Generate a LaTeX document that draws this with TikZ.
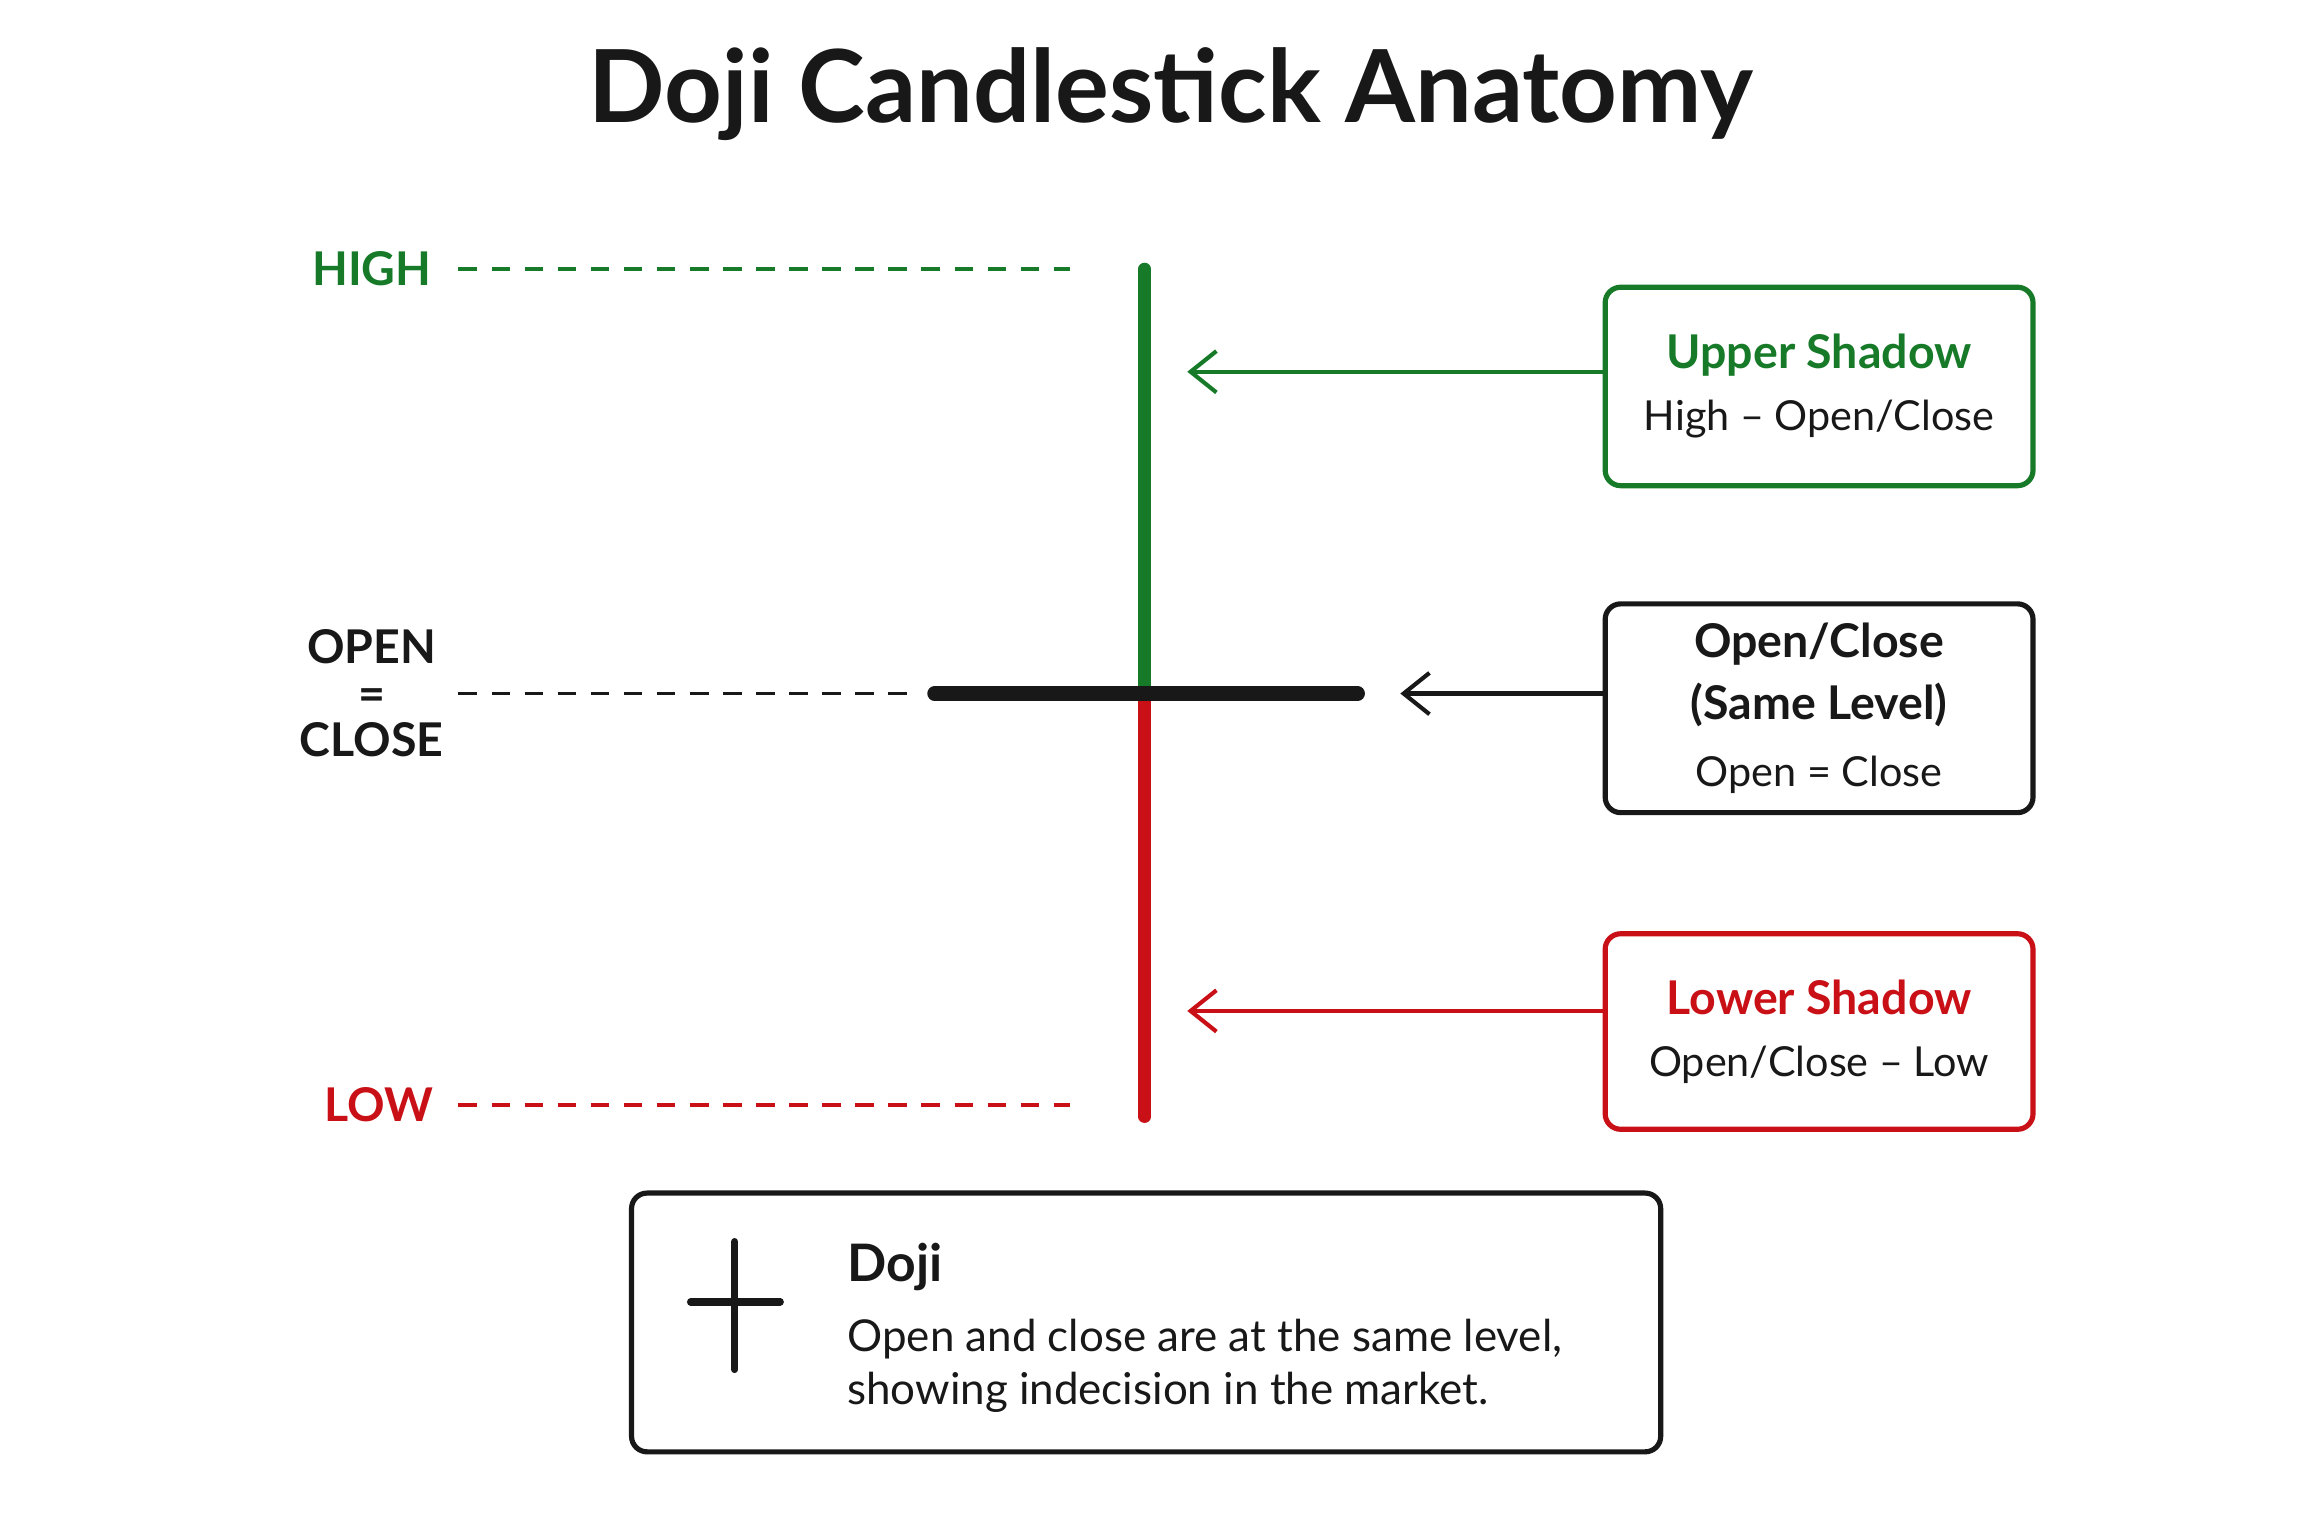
\documentclass[tikz,border=0pt]{standalone}
\usepackage{fontspec}
\setmainfont{Lato}
\usetikzlibrary{arrows.meta}
\definecolor{upgreen}{RGB}{22,122,40}
\definecolor{downred}{RGB}{200,16,22}
\definecolor{ink}{RGB}{24,24,24}
\newcommand{\boxhead}{\fontsize{9}{11}\selectfont\bfseries}
\newcommand{\boxbody}{\fontsize{8}{10}\selectfont\mdseries}
\tikzset{
    level/.style = { font=\fontsize{9}{11}\selectfont\bfseries },
    guide/.style = { dashed, dash pattern=on 3.6pt off 2.8pt, line width=0.7pt },
    infobox/.style = { draw, rounded corners=3pt, line width=1pt, minimum width=2.91cm, align=center },
    pointer/.style = { -{Straight Barb[length=5pt,width=8pt]}, line width=0.8pt }
}
\begin{document}
\begin{tikzpicture}[x=0.01cm,y=-0.01cm]
\useasboundingbox (0,0) rectangle (1568,1045);
\node[text=ink,font=\fontsize{19.5}{24}\selectfont\bfseries] (title) at (797,64) {Doji Candlestick Anatomy};
% price levels
\node[level,text=upgreen] (HIGH) at (253,183) {HIGH};
\node[level,text=ink,align=center,font=\fontsize{9}{10}\selectfont\bfseries] (OC) at (253,472) {OPEN\\[-1pt]=\\[-1pt]CLOSE};
\node[level,text=downred] (LOW) at (258,752) {LOW};
\coordinate (hEnd) at (728,183);
\coordinate (oEnd) at (625,472);
\coordinate (lEnd) at (728,752);
\draw[guide,upgreen] (312,183) -- (hEnd);
\draw[guide,ink] (312,472) -- (oEnd);
\draw[guide,downred] (312,752) -- (lEnd);
% candle
\coordinate (top) at (779,183);
\coordinate (mid) at (779,472);
\coordinate (bot) at (779,760);
\draw[upgreen,line width=2.4pt,line cap=round] (top) -- (mid);
\draw[downred,line width=2.4pt,line cap=round] (mid) -- (bot);
\coordinate (barL) at (636,472);
\coordinate (barR) at (924,472);
\draw[ink,line width=2.8pt,line cap=round] (barL) -- (barR);
% boxes
\node[infobox,draw=upgreen,minimum height=1.35cm] (UP) at (1238,263)
    {\boxhead\color{upgreen}Upper Shadow\\[0pt]\boxbody\color{ink}High – Open/Close};
\node[infobox,draw=ink,minimum height=1.42cm,text=ink] (MID) at (1238,482)
    {\boxhead Open/Close\\\boxhead (Same Level)\\[1pt]\boxbody Open = Close};
\node[infobox,draw=downred,minimum height=1.33cm] (DOWN) at (1238,702)
    {\boxhead\color{downred}Lower Shadow\\[0pt]\boxbody\color{ink}Open/Close – Low};
\coordinate (upT) at (808,253);
\coordinate (midT) at (953,472);
\coordinate (downT) at (808,688);
\draw[pointer,upgreen] (UP.west |- upT) -- (upT);
\draw[pointer,ink] (MID.west |- midT) -- (midT);
\draw[pointer,downred] (DOWN.west |- downT) -- (downT);
% legend
\node[draw=ink,rounded corners=3pt,line width=1pt,minimum width=7cm,minimum height=1.76cm] (KEY) at (780,900) {};
\coordinate (cT) at (500,845);
\coordinate (cB) at (500,932);
\coordinate (cL) at (470,886);
\coordinate (cR) at (531,886);
\draw[ink,line width=1.4pt,line cap=round] (cT) -- (cB);
\draw[ink,line width=1.4pt,line cap=round] (cL) -- (cR);
\node[anchor=west,text=ink,font=\fontsize{10}{12}\selectfont\bfseries,inner sep=0pt] (kname) at (576,862) {Doji};
\node[anchor=north west,text=ink,align=left,font=\fontsize{8.5}{10.2}\selectfont,inner sep=0pt] (ktext) at (576,897)
    {Open and close are at the same level,\\showing indecision in the market.};
\end{tikzpicture}
\end{document}
